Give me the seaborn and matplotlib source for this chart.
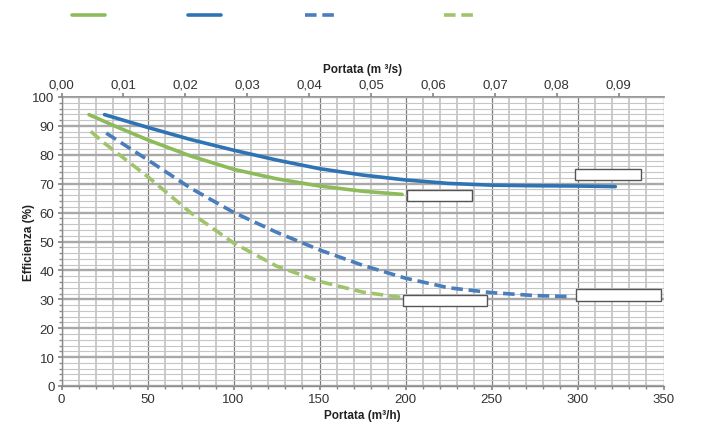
import numpy as np
import pandas as pd
import seaborn as sns
import matplotlib.pyplot as plt
from matplotlib.patches import Rectangle
from matplotlib.lines import Line2D
from matplotlib.ticker import MultipleLocator, FuncFormatter, FixedLocator

# ---------------- data ----------------
series_names = ["Curva 1", "Curva 2", "Curva 3", "Curva 4"]

green_solid_x = [16, 30, 50, 75, 100, 125, 150, 175, 198]
green_solid_y = [93.9, 90.2, 85.2, 79.6, 75.0, 71.7, 69.2, 67.4, 66.3]

blue_solid_x = [25, 50, 75, 100, 125, 150, 175, 200, 225, 250, 275, 300, 322]
blue_solid_y = [93.9, 89.5, 85.3, 81.6, 78.2, 75.2, 73.0, 71.3, 70.1, 69.5, 69.3, 69.2, 69.0]

blue_dash_x = [26, 50, 75, 100, 125, 150, 175, 200, 225, 250, 275, 297]
blue_dash_y = [87.5, 78.3, 68.5, 60.1, 53.2, 47.1, 41.8, 37.3, 34.0, 32.3, 31.3, 30.9]

green_dash_x = [17, 25, 50, 75, 100, 125, 150, 175, 197]
green_dash_y = [88.1, 84.0, 72.5, 60.0, 49.5, 41.5, 36.2, 32.5, 30.7]

top_ticks = [0.00, 0.01, 0.02, 0.03, 0.04, 0.05, 0.06, 0.07, 0.08, 0.09]
bottom_ticks = [0, 50, 100, 150, 200, 250, 300, 350]
y_ticks = [0, 10, 20, 30, 40, 50, 60, 70, 80, 90, 100]

colors = {"Curva 1": "#8dbb5a", "Curva 2": "#2e74b5",
          "Curva 3": "#4a7dbb", "Curva 4": "#a0c46c"}
dashes = {"Curva 1": "", "Curva 2": "", "Curva 3": (3.2, 1.6), "Curva 4": (3.2, 1.6)}

frames = []
for name, xs, ys in zip(series_names,
                        [green_solid_x, blue_solid_x, blue_dash_x, green_dash_x],
                        [green_solid_y, blue_solid_y, blue_dash_y, green_dash_y]):
    frames.append(pd.DataFrame({"portata": xs, "eff": ys, "serie": name}))
df = pd.concat(frames, ignore_index=True)

# ---------------- style ----------------
sns.set_theme(style="white")
plt.rcParams['font.family'] = ['Liberation Sans', 'DejaVu Sans']

fig = plt.figure(figsize=(7.25, 4.39), dpi=100)
ax = fig.add_axes([61.5 / 725, 52 / 439, (663.5 - 61.5) / 725, 289 / 439])

sns.lineplot(data=df, x="portata", y="eff", hue="serie", style="serie",
             palette=colors, dashes=dashes, linewidth=2.6, sort=False,
             estimator=None, legend=False, ax=ax, zorder=3)

ax.set_xlim(0, 350)
ax.set_ylim(0, 100)
ax.xaxis.set_major_locator(FixedLocator(bottom_ticks))
ax.xaxis.set_minor_locator(MultipleLocator(10))
ax.yaxis.set_major_locator(FixedLocator(y_ticks))
ax.yaxis.set_minor_locator(MultipleLocator(2))

ax.grid(which="minor", axis="y", color="#c6c6c6", lw=0.8, zorder=0)
ax.grid(which="major", axis="y", color="#a9a9a9", lw=1.7, zorder=0)
ax.grid(which="minor", axis="x", color="#bcbcbc", lw=1.1, zorder=0)
ax.grid(which="major", axis="x", color="#7c7c7c", lw=0.9, zorder=0)
ax.set_axisbelow(True)

for s in ["right", "top"]:
    ax.spines[s].set_visible(False)
for s in ["left", "bottom"]:
    ax.spines[s].set_color("#8a8a8a")
    ax.spines[s].set_linewidth(1.0)

ax.tick_params(axis="both", which="major", length=3, color="#8a8a8a",
               labelsize=9.5, labelcolor="#333333", pad=2, direction="out")
ax.tick_params(axis="both", which="minor", length=2, color="#8a8a8a")
ax.tick_params(left=True, bottom=True, which="both")

ax.set_xlabel("Portata (m³/h)", fontsize=8.5, fontweight="bold", labelpad=3,
              color="#222222")
ax.set_ylabel("Efficienza (%)", fontsize=8.5, fontweight="bold", labelpad=-2,
              color="#222222")

# top axis in m3/s
sec = ax.secondary_xaxis("top", functions=(lambda x: x / 3600, lambda x: x * 3600))
sec.xaxis.set_major_locator(FixedLocator(top_ticks))
sec.xaxis.set_major_formatter(FuncFormatter(lambda v, p: f"{v:.2f}".replace(".", ",")))
sec.tick_params(axis="x", length=3, color="#8a8a8a", labelsize=9.5,
                labelcolor="#333333", pad=2)
sec.spines["top"].set_color("#8a8a8a")
sec.set_xlabel("Portata (m ³/s)", fontsize=8.5, fontweight="bold", labelpad=4,
               color="#222222")

# empty label boxes next to the curve ends
box_offsets = [(3.0, -0.45, 37.5, 3.9),   # green solid
               (-23.3, 4.15, 38.2, 3.9),  # blue solid
               (2.3, 0.65, 49.4, 4.1),    # blue dashed
               (1.3, -1.05, 49.0, 3.9)]   # green dashed
for (xs, ys), (dx, dy, w, h) in zip(
        [(green_solid_x, green_solid_y), (blue_solid_x, blue_solid_y),
         (blue_dash_x, blue_dash_y), (green_dash_x, green_dash_y)], box_offsets):
    cx, cy = xs[-1] + dx, ys[-1] + dy
    ax.add_patch(Rectangle((cx, cy - h / 2), w, h, facecolor="white",
                           edgecolor="#555555", lw=1.0, zorder=5, clip_on=False))

# legend (line samples only, labels blank)
handles = [Line2D([], [], color=colors[n], lw=2.6,
                  linestyle="-" if dashes[n] == "" else (0, dashes[n]))
           for n in series_names]
labels = ["", "", " " * 6, ""]
fig.legend(handles, labels, loc="center left", bbox_to_anchor=(72 / 725, 1 - 17 / 439),
           ncol=4, frameon=False, fontsize=10, handlelength=2.38,
           handletextpad=0.0, columnspacing=6.0, borderpad=0, borderaxespad=0)

fig.savefig("out.png", dpi=100)
